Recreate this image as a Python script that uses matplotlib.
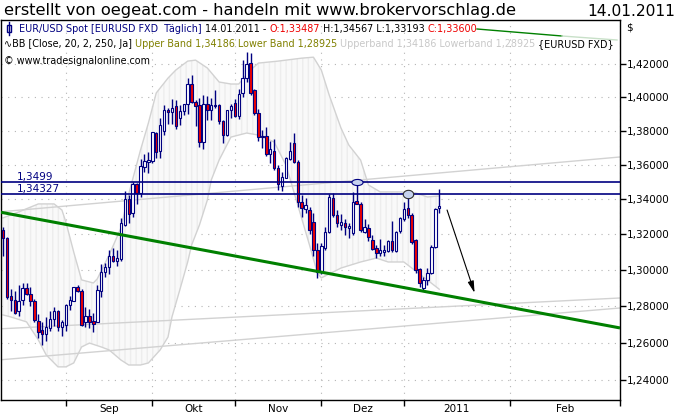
import matplotlib
matplotlib.use('Agg')
import matplotlib.pyplot as plt
import matplotlib.ticker as mticker
import matplotlib.transforms as mtransforms
from matplotlib.lines import Line2D
from matplotlib.patches import Rectangle
import numpy as np
import pandas as pd

# Handelstage im Chart (24.12. und 31.12. fehlen in den Daten)
tage = pd.bdate_range('2010-08-10', '2011-01-14')
tage = tage[~tage.isin(pd.to_datetime(['2010-12-24', '2010-12-31']))]

eroeffnung = [1.3227, 1.3180, 1.2855, 1.2835, 1.2770, 1.2833, 1.2897, 1.2868, 1.2830, 1.2720,
              1.2667, 1.2645, 1.2680, 1.2730, 1.2775, 1.2685, 1.2697, 1.2808, 1.2830, 1.2905,
              1.2885, 1.2710, 1.2745, 1.2720, 1.2715, 1.2885, 1.2990, 1.3015, 1.3075, 1.3050,
              1.3060, 1.3255, 1.3400, 1.3320, 1.3485, 1.3435, 1.3585, 1.3618, 1.3620, 1.3785,
              1.3680, 1.3800, 1.3925, 1.3910, 1.3945, 1.3878, 1.3918, 1.3958, 1.4078, 1.3970,
              1.3950, 1.3734, 1.3958, 1.3925, 1.3955, 1.3950, 1.3860, 1.3774, 1.3925, 1.3965,
              1.3888, 1.4022, 1.4113, 1.4205, 1.4045, 1.3905, 1.3760, 1.3770, 1.3660, 1.3680,
              1.3580, 1.3475, 1.3525, 1.3635, 1.3725, 1.3615, 1.3385, 1.3345, 1.3340, 1.3270,
              1.3110, 1.2990, 1.3125, 1.3215, 1.3405, 1.3310, 1.3255, 1.3265, 1.3235, 1.3205,
              1.3390, 1.3375, 1.3215, 1.3235, 1.3165, 1.3120, 1.3095, 1.3100, 1.3105, 1.3160,
              1.3105, 1.3220, 1.3288, 1.3352, 1.3310, 1.3165, 1.3003, 1.2900, 1.2945, 1.2985,
              1.3130, 1.33487]
hoch = [1.3240, 1.3185, 1.2895, 1.2880, 1.2915, 1.2925, 1.2925, 1.2905, 1.2838, 1.2755,
        1.2715, 1.2740, 1.2775, 1.2795, 1.2780, 1.2725, 1.2812, 1.2855, 1.2907, 1.2915,
        1.2895, 1.2795, 1.2785, 1.2760, 1.2915, 1.3030, 1.3040, 1.3110, 1.3125, 1.3110,
        1.3290, 1.3445, 1.3425, 1.3498, 1.3495, 1.3635, 1.3665, 1.3675, 1.3795, 1.3795,
        1.3875, 1.3950, 1.3935, 1.3990, 1.3985, 1.3950, 1.3960, 1.4115, 1.4135, 1.3985,
        1.3995, 1.4015, 1.4005, 1.3995, 1.4045, 1.3960, 1.3865, 1.3925, 1.3960, 1.3990,
        1.4050, 1.4226, 1.4275, 1.4265, 1.4050, 1.3930, 1.3805, 1.3820, 1.3740, 1.3750,
        1.3600, 1.3555, 1.3645, 1.3735, 1.3785, 1.3625, 1.3425, 1.3405, 1.3355, 1.3320,
        1.3150, 1.3150, 1.3240, 1.3430, 1.3435, 1.3340, 1.3315, 1.3285, 1.3265, 1.3440,
        1.3499, 1.3385, 1.3285, 1.3260, 1.3195, 1.3140, 1.3175, 1.3140, 1.3170, 1.3275,
        1.3220, 1.3300, 1.3385, 1.3433, 1.3320, 1.3175, 1.3010, 1.2960, 1.3010, 1.3140,
        1.3350, 1.34567]
tief = [1.3080, 1.2840, 1.2772, 1.2755, 1.2745, 1.2805, 1.2862, 1.2800, 1.2710, 1.2625,
        1.2590, 1.2610, 1.2665, 1.2690, 1.2665, 1.2635, 1.2665, 1.2780, 1.2825, 1.2875,
        1.2688, 1.2685, 1.2680, 1.2660, 1.2710, 1.2850, 1.2960, 1.2975, 1.3045, 1.3020,
        1.3050, 1.3245, 1.3265, 1.3300, 1.3375, 1.3410, 1.3560, 1.3550, 1.3610, 1.3640,
        1.3640, 1.3775, 1.3840, 1.3840, 1.3810, 1.3835, 1.3895, 1.3900, 1.3965, 1.3830,
        1.3705, 1.3690, 1.3865, 1.3865, 1.3935, 1.3840, 1.3730, 1.3770, 1.3875, 1.3880,
        1.3870, 1.4000, 1.4090, 1.4010, 1.3895, 1.3740, 1.3700, 1.3650, 1.3610, 1.3570,
        1.3455, 1.3445, 1.3520, 1.3625, 1.3610, 1.3355, 1.3300, 1.3320, 1.3200, 1.3075,
        1.2955, 1.2975, 1.3110, 1.3210, 1.3300, 1.3240, 1.3225, 1.3195, 1.3180, 1.3195,
        1.3370, 1.3215, 1.3205, 1.3160, 1.3110, 1.3065, 1.3080, 1.3080, 1.3100, 1.3100,
        1.3100, 1.3210, 1.3275, 1.3290, 1.3145, 1.2985, 1.2905, 1.2885, 1.2915, 1.2975,
        1.3125, 1.33193]
schluss = [1.3180, 1.2848, 1.2835, 1.2760, 1.2830, 1.2897, 1.2868, 1.2830, 1.2723, 1.2660,
           1.2645, 1.2685, 1.2730, 1.2775, 1.2685, 1.2710, 1.2808, 1.2832, 1.2905, 1.2885,
           1.2695, 1.2745, 1.2715, 1.2700, 1.2890, 1.2990, 1.3015, 1.3075, 1.3050, 1.3068,
           1.3265, 1.3400, 1.3315, 1.3490, 1.3435, 1.3590, 1.3620, 1.3628, 1.3790, 1.3675,
           1.3835, 1.3925, 1.3910, 1.3935, 1.3825, 1.3918, 1.3958, 1.4078, 1.3970, 1.3945,
           1.3734, 1.3958, 1.3925, 1.3955, 1.3945, 1.3855, 1.3775, 1.3925, 1.3945, 1.3885,
           1.4020, 1.4113, 1.4198, 1.4025, 1.3905, 1.3760, 1.3770, 1.3665, 1.3690, 1.3580,
           1.3485, 1.3530, 1.3640, 1.3680, 1.3615, 1.3385, 1.3350, 1.3365, 1.3225, 1.3110,
           1.2990, 1.3135, 1.3215, 1.3410, 1.3310, 1.3265, 1.3270, 1.3240, 1.3245, 1.3385,
           1.3375, 1.3222, 1.3240, 1.3185, 1.3118, 1.3095, 1.3110, 1.3110, 1.3160, 1.3110,
           1.3215, 1.3290, 1.3345, 1.3310, 1.3155, 1.3000, 1.2925, 1.2945, 1.2980, 1.3130,
           1.3345, 1.33600]

# Bollinger Baender
bb_oben_tage = ['2010-08-10', '2010-08-16', '2010-08-23', '2010-08-27', '2010-08-31', '2010-09-01',
                '2010-09-03', '2010-09-07', '2010-09-10', '2010-09-13', '2010-09-16', '2010-09-21',
                '2010-09-23', '2010-09-28', '2010-09-30', '2010-10-04', '2010-10-07', '2010-10-11',
                '2010-10-14', '2010-10-18', '2010-10-21', '2010-10-26', '2010-10-29', '2010-11-02',
                '2010-11-05', '2010-11-09', '2010-11-16', '2010-11-24', '2010-11-29', '2010-12-01',
                '2010-12-03', '2010-12-07', '2010-12-08', '2010-12-10', '2010-12-15', '2010-12-17',
                '2010-12-22', '2010-12-30', '2011-01-06', '2011-01-11', '2011-01-14']
bb_oben = [1.3293, 1.3327, 1.3373, 1.3373, 1.3338, 1.3270, 1.3100, 1.2944, 1.2927, 1.2950,
           1.3083, 1.3235, 1.3430, 1.3686, 1.3845, 1.4025, 1.4115, 1.4164, 1.4218, 1.4224,
           1.4176, 1.4091, 1.4079, 1.4079, 1.4164, 1.4206, 1.4218, 1.4236, 1.4242, 1.4164,
           1.4013, 1.3881, 1.3816, 1.3715, 1.3627, 1.3482, 1.3442, 1.3442, 1.3436, 1.3413,
           1.34186]
bb_unten_tage = ['2010-08-10', '2010-08-12', '2010-08-18', '2010-08-23', '2010-08-25', '2010-08-30',
                 '2010-09-01', '2010-09-03', '2010-09-07', '2010-09-09', '2010-09-14', '2010-09-16',
                 '2010-09-21', '2010-09-23', '2010-09-28', '2010-09-30', '2010-10-05', '2010-10-07',
                 '2010-10-08', '2010-10-12', '2010-10-14', '2010-10-15', '2010-10-19', '2010-10-21',
                 '2010-10-22', '2010-10-26', '2010-10-29', '2010-11-04', '2010-11-09', '2010-11-15',
                 '2010-11-18', '2010-11-23', '2010-11-26', '2010-11-30', '2010-12-01', '2010-12-08',
                 '2010-12-15', '2010-12-21', '2010-12-27', '2011-01-03', '2011-01-07', '2011-01-14']
bb_unten = [1.2751, 1.2740, 1.2713, 1.2615, 1.2534, 1.2470, 1.2470, 1.2491, 1.2577, 1.2598,
            1.2577, 1.2561, 1.2507, 1.2480, 1.2480, 1.2491, 1.2561, 1.2631, 1.2740, 1.2889,
            1.3044, 1.3139, 1.3253, 1.3395, 1.3511, 1.3627, 1.3762, 1.3786, 1.3774, 1.3733,
            1.3598, 1.3367, 1.3139, 1.2982, 1.2955, 1.3010, 1.3044, 1.3066, 1.3044, 1.3044,
            1.2977, 1.28925]

# Trendlinien: zwei Stuetzpunkte (Datum, Kurs)
gruene_linie = [('2010-08-10', 1.3323), ('2011-03-01', 1.2680)]
graue_linien = [[('2010-08-10', 1.2676), ('2011-03-01', 1.2844)],
                [('2010-08-10', 1.2509), ('2011-03-01', 1.2789)],
                [('2010-08-10', 1.3329), ('2011-03-01', 1.3645)]]
widerstaende = [1.3499, 1.34327]
widerstand_texte = ['1,3499', '1,34327']
markierungen = [('2010-12-14', 1.3499), ('2011-01-04', 1.34327)]
pfeil = [('2011-01-16', 1.3338), ('2011-01-23', 1.2872)]

monatsgrenzen = ['2010-09-01', '2010-10-01', '2010-11-01', '2010-12-01', '2011-01-01', '2011-02-01', '2011-03-01']
monatsnamen = ['Sep', 'Okt', 'Nov', 'Dez', '2011', 'Feb']
kurs_ticks = [1.24, 1.26, 1.28, 1.30, 1.32, 1.34, 1.36, 1.38, 1.40, 1.42]

navy = '#000080'
rot = '#ee0000'
grau = '#d2d2d2'
letzter = tage[-1]


def x_von(datum):
    d = pd.Timestamp(datum)
    if d <= letzter:
        return int(tage.searchsorted(d))
    # nach dem letzten Kurs: Kalendertage
    return len(tage) - 1 + (d - letzter).days


fig = plt.figure(figsize=(6.8, 4.2), dpi=100)
ax = fig.add_axes([1/680, 20/420, 619/680, 380/420])
pix = mtransforms.Affine2D().scale(1/680, -1/420).translate(0, 1) + fig.transFigure

ax.set_yscale('log')
ax.set_xlim(-0.5, x_von('2011-03-01'))
ax.set_ylim(1.2294, 1.4471)

# Bollinger Flaeche
xo = [x_von(d) for d in bb_oben_tage]
xu = [x_von(d) for d in bb_unten_tage]
ax.fill(np.r_[xo, xu[::-1]], np.r_[bb_oben, bb_unten[::-1]], facecolor='#f9f9f9',
        edgecolor='#ededed', hatch='|||', lw=0, zorder=1)
plt.rcParams['hatch.linewidth'] = 0.4
ax.plot(xo, bb_oben, color=grau, lw=1, zorder=2)
ax.plot(xu, bb_unten, color=grau, lw=1, zorder=2)


def trendlinie(punkte, **kw):
    (d1, p1), (d2, p2) = punkte
    x1, x2 = x_von(d1), x_von(d2)
    m = (np.log(p2) - np.log(p1)) / (x2 - x1)
    xs = np.array(ax.get_xlim())
    ax.plot(xs, p1 * np.exp(m * (xs - x1)), **kw)


for linie in graue_linien:
    trendlinie(linie, color=grau, lw=1, zorder=2)

# Kerzen
pos = np.arange(len(tage))
o = np.array(eroeffnung)
c = np.array(schluss)
ax.vlines(pos, tief, hoch, color=navy, lw=1, zorder=3)
unten = np.minimum(o, c)
hoehe = np.maximum(np.abs(c - o), 0.0003)
farben = np.where(c >= o, 'white', rot)
ax.bar(pos, hoehe, bottom=unten, width=0.62, color=farben, edgecolor=navy, lw=0.8, zorder=4)

trendlinie(gruene_linie, color='#008000', lw=2.2, zorder=5, solid_capstyle='butt')

for wert, txt in zip(widerstaende, widerstand_texte):
    ax.axhline(wert, color=navy, lw=1.2, zorder=5)
    ax.text(0.026, wert, txt, transform=ax.get_yaxis_transform(), color=navy,
            fontsize=7.5, va='bottom', ha='left', zorder=6)

t = np.linspace(0, 2*np.pi, 60)
ellipse_flach = np.column_stack([np.cos(t), 0.55*np.sin(t)])
ellipse_rund = np.column_stack([np.cos(t), 0.8*np.sin(t)])
(d1, p1), (d2, p2) = markierungen
ax.scatter([x_von(d1)], [p1], marker=ellipse_flach, s=64, facecolor='#c6d2ee', edgecolor=navy, lw=0.8, zorder=7)
ax.scatter([x_von(d2)], [p2], marker=ellipse_rund, s=56, facecolor='#c6d2ee', edgecolor='#303030', lw=0.8, zorder=7)

ax.annotate('', xy=(x_von(pfeil[1][0]), pfeil[1][1]), xytext=(x_von(pfeil[0][0]), pfeil[0][1]),
            arrowprops=dict(arrowstyle='-|>,head_length=0.7,head_width=0.18', color='black',
                            lw=0.8, shrinkA=0, shrinkB=0), zorder=7)

# Achsen
grenzen = [x_von(d) for d in monatsgrenzen]
mitten = [(a + b) / 2 for a, b in zip(grenzen[:-1], grenzen[1:])]
ax.xaxis.set_major_locator(mticker.FixedLocator(grenzen))
ax.xaxis.set_major_formatter(mticker.NullFormatter())
ax.xaxis.set_minor_locator(mticker.FixedLocator(mitten))
ax.xaxis.set_minor_formatter(mticker.FixedFormatter(monatsnamen))
ax.tick_params(axis='x', which='major', direction='out', length=4, width=1, color='black')
ax.tick_params(axis='x', which='minor', length=0, labelsize=7.5, pad=3)

ax.yaxis.tick_right()
ax.yaxis.set_major_locator(mticker.FixedLocator(kurs_ticks))
ax.yaxis.set_minor_locator(mticker.NullLocator())
ax.yaxis.set_major_formatter(mticker.FuncFormatter(lambda v, _: f'{v:.5f}'.replace('.', ',')))
ax.tick_params(axis='y', which='major', direction='out', length=4, width=1, labelsize=7.5, pad=1)

ax.grid(True, which='major', color='#b4b4b4', lw=0.8, linestyle=(0, (1, 5)))
ax.set_axisbelow(True)
for s in ax.spines.values():
    s.set_color('black')
    s.set_linewidth(1)

# Kopfzeilen
fig.text(4, 11, 'erstellt von oegeat.com - handeln mit www.brokervorschlag.de', transform=pix,
         fontsize=11.7, va='center', ha='left')
fig.text(675, 11, '14.01.2011', transform=pix, fontsize=11.2, va='center', ha='right')
fig.text(626, 28, '$', transform=pix, fontsize=7.5, va='center', ha='left')

renderer = fig.canvas.get_renderer()


def textzeile(x, y, teile, groesse=6.95):
    for s, farbe in teile:
        tx = fig.text(x, y, s, transform=pix, color=farbe, fontsize=groesse, va='center', ha='left')
        x = tx.get_window_extent(renderer).x1
    return x


ende = textzeile(19, 29, [('EUR/USD Spot [EURUSD FXD  Täglich] ', navy), ('14.01.2011 - ', 'black'),
                          ('O:1,33487', rot), (' H:1,34567 L:1,33193 ', 'black'), ('C:1,33600', rot)])
fig.add_artist(Line2D([ende, 562], [29, 36], transform=pix, color='#008000', lw=1))
fig.add_artist(Line2D([562, 617], [36, 40], transform=pix, color='#c8e0c8', lw=1))
textzeile(4, 44, [('∿BB [Close, 20, 2, 250, Ja] ', 'black'),
                  ('Upper Band 1,34186 Lower Band 1,28925 ', '#808000'),
                  ('Upperband 1,34186 Lowerband 1,28925 ', '#c8c8c8'),
                  ('{EURUSD FXD}', 'black')])
textzeile(4, 61, [('© www.tradesignalonline.com', 'black')])

# kleines Kerzensymbol
fig.add_artist(Line2D([9, 9], [22, 35], transform=pix, color=navy, lw=1))
fig.add_artist(Rectangle((7, 25), 4, 7, transform=pix, facecolor='white', edgecolor=navy, lw=1))

fig.savefig('out.png', dpi=100)
